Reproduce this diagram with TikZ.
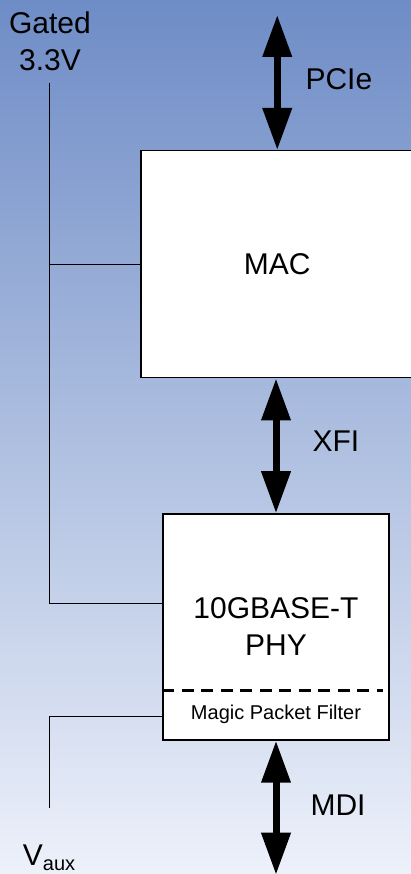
\documentclass[tikz,border=0pt]{standalone}
\usepackage{fontspec}
\setmainfont{Liberation Sans}
\usetikzlibrary{arrows.meta,positioning,calc}
\definecolor{bgtop}{RGB}{110,140,198}
\definecolor{bgbottom}{RGB}{237,241,250}

\begin{document}
\begin{tikzpicture}[
  x=1pt, y=1pt,
  font=\fontsize{30}{37}\selectfont,
  block/.style={draw, line width=1.5pt, fill=white, inner sep=0pt},
  bus/.style={{Triangle[length=42pt,width=28pt]}-{Triangle[length=42pt,width=28pt]}, line width=7pt},
  wire/.style={line width=1pt},
  buslabel/.style={anchor=base west},
  filterline/.style={dash pattern=on 12pt off 7.5pt, line width=3.2pt}
]
\shade[top color=bgtop, bottom color=bgbottom] (0,0) rectangle (411,874);
\useasboundingbox (0,0) rectangle (411,874);
\clip (0,0) rectangle (411,874);

% blocks
\node[block, minimum width=273pt, minimum height=227pt, anchor=north west] (mac) at (140,724) {MAC};
\node[block, minimum width=226pt, minimum height=226pt, align=center] (phy) at (276,247) {10GBASE-T\\PHY};
\draw[filterline] ([yshift=50pt]phy.south west) -- ([xshift=-7pt, yshift=50pt]phy.south east);
\node[font=\fontsize{20}{24}\selectfont] (filter) at ([yshift=26pt]phy.south) {Magic Packet Filter};

% supplies
\node[align=center] (gated) at (50,833) {Gated\\3.3V};
\node[anchor=base] (vaux) at (49,9) {V\raisebox{-6pt}{\fontsize{20}{24}\selectfont aux}};
\coordinate (vtop) at (49,791);
\coordinate (vbot) at (49,66);
\draw[wire] (vtop) |- ([yshift=23pt]phy.west);
\draw[wire] (vtop |- mac.west) -- (mac.west);
\draw[wire] (vbot) |- ([yshift=-90pt]phy.west);

% buses
\coordinate (pcie) at ([yshift=135pt]mac.north);
\coordinate (mdi) at ([yshift=-134pt]phy.south);
\draw[bus] (pcie) -- (mac.north);
\draw[bus] (phy.north |- mac.south) -- (phy.north);
\draw[bus] (phy.south) -- (mdi);
\node[buslabel] (pcie-label) at (302,784) {PCIe};
\node[buslabel] (xfi-label) at (309,422) {XFI};
\node[buslabel] (mdi-label) at (307,58) {MDI};
\end{tikzpicture}
\end{document}
